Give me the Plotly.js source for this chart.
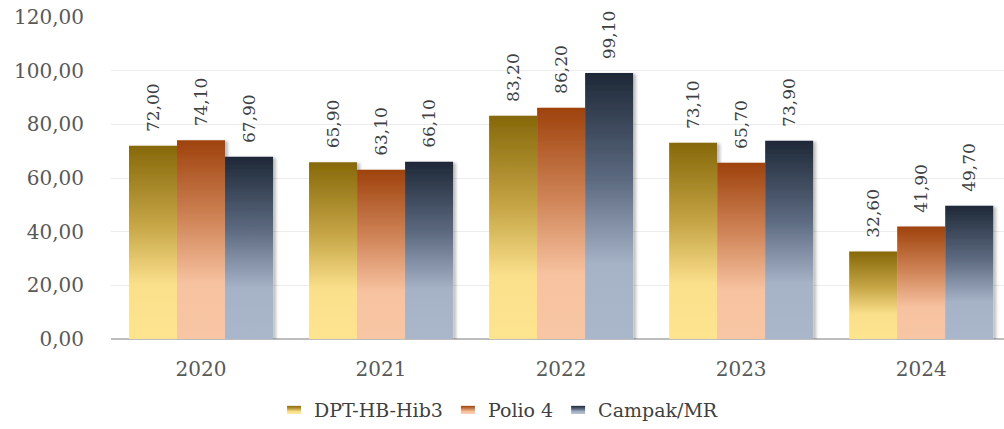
<!DOCTYPE html>
<html>
<head>
<meta charset="utf-8">
<script src="https://cdn.plot.ly/plotly-3.0.1.min.js"></script>
<style>html,body{margin:0;padding:0;background:#fff;}#chart{width:1004px;height:429px;}</style>
</head>
<body>
<div id="chart"></div>
<script>
const years = ['2020', '2021', '2022', '2023', '2024'];
const seriesNames = ['DPT-HB-Hib3', 'Polio 4', 'Campak/MR'];
const dpt = [72.0, 65.9, 83.2, 73.1, 32.6];
const polio = [74.1, 63.1, 86.2, 65.7, 41.9];
const campak = [67.9, 66.1, 99.1, 73.9, 49.7];
const yTicks = [0, 20, 40, 60, 80, 100, 120];

const gradients = [
  ['#86680a', '#c4a444', '#fbe08c', '#fde48f'],
  ['#9e420d', '#d08558', '#f7c2a0', '#f8c6a4'],
  ['#1e2837', '#5c6a80', '#a6b2c6', '#aab6c9']
];
const solid = ['#c9a53a', '#d4845a', '#5f6e85'];
const FONT = 'DejaVu Serif';

const values = [dpt, polio, campak];
const traces = values.map((v, i) => ({
  type: 'bar',
  x: years,
  y: v,
  name: seriesNames[i],
  marker: {color: solid[i], line: {width: 0}},
  texttemplate: '\u00a0\u00a0%{y:.2f}',
  textposition: 'outside',
  textangle: -90,
  constraintext: 'none',
  cliponaxis: false,
  textfont: {family: FONT, size: 17, color: '#404040'},
  hoverinfo: 'none'
}));

const layout = {
  width: 1004,
  height: 429,
  margin: {l: 111, r: 0, t: 17, b: 89},
  paper_bgcolor: '#ffffff',
  plot_bgcolor: '#ffffff',
  separators: ',.',
  barmode: 'group',
  bargap: 0.2,
  bargroupgap: 0,
  font: {family: FONT, color: '#595959', size: 19},
  showlegend: true,
  legend: {
    orientation: 'h',
    x: 0.434, xanchor: 'center',
    y: -0.22, yanchor: 'middle',
    font: {family: FONT, size: 19, color: '#404040'}
  },
  xaxis: {
    type: 'category',
    range: [-0.5, 4.46],
    showgrid: false,
    showline: false,
    ticks: '',
    tickfont: {family: FONT, size: 20, color: '#595959'},
    ticklabelstandoff: 16
  },
  yaxis: {
    range: [0, 120],
    tickvals: yTicks,
    tickformat: '.2f',
    showgrid: true,
    gridcolor: '#ececec',
    gridwidth: 1,
    zeroline: true,
    zerolinecolor: '#bdbdbd',
    zerolinewidth: 1.5,
    showline: false,
    ticks: '',
    ticklabelstandoff: 26,
    tickfont: {family: FONT, size: 20, color: '#595959'}
  }
};

Plotly.newPlot('chart', traces, layout, {displayModeBar: false}).then(gd => {
  const NS = 'http://www.w3.org/2000/svg';
  const svg = gd.querySelector('svg.main-svg');
  let defs = svg.querySelector('defs');
  if (!defs) { defs = document.createElementNS(NS, 'defs'); svg.insertBefore(defs, svg.firstChild); }
  gradients.forEach((g, i) => {
    const lg = document.createElementNS(NS, 'linearGradient');
    lg.setAttribute('id', 'barGrad' + i);
    lg.setAttribute('x1', '0'); lg.setAttribute('y1', '0');
    lg.setAttribute('x2', '0'); lg.setAttribute('y2', '1');
    const stops = [[0, g[0]], [0.4, g[1]], [0.72, g[2]], [1, g[3]]];
    stops.forEach(([o, c]) => {
      const s = document.createElementNS(NS, 'stop');
      s.setAttribute('offset', o);
      s.setAttribute('stop-color', c);
      lg.appendChild(s);
    });
    defs.appendChild(lg);
  });
  const f = document.createElementNS(NS, 'filter');
  f.setAttribute('id', 'barShadow');
  f.setAttribute('x', '-10%'); f.setAttribute('y', '-10%');
  f.setAttribute('width', '140%'); f.setAttribute('height', '120%');
  const ds = document.createElementNS(NS, 'feDropShadow');
  ds.setAttribute('dx', '3'); ds.setAttribute('dy', '1');
  ds.setAttribute('stdDeviation', '1.5');
  ds.setAttribute('flood-color', '#000'); ds.setAttribute('flood-opacity', '0.25');
  f.appendChild(ds);
  defs.appendChild(f);

  gd.querySelectorAll('.barlayer .trace').forEach((tr, i) => {
    tr.querySelectorAll('.point path').forEach(p => {
      p.style.fill = 'url(#barGrad' + i + ')';
      p.setAttribute('filter', 'url(#barShadow)');
    });
  });
  gd.querySelectorAll('.legend .traces').forEach((tr, i) => {
    tr.querySelectorAll('.legendpoints path').forEach(p => {
      p.style.fill = 'url(#barGrad' + i + ')';
      p.setAttribute('d', 'M-7,-4h14v8h-14Z');
    });
  });
});
</script>
</body>
</html>
